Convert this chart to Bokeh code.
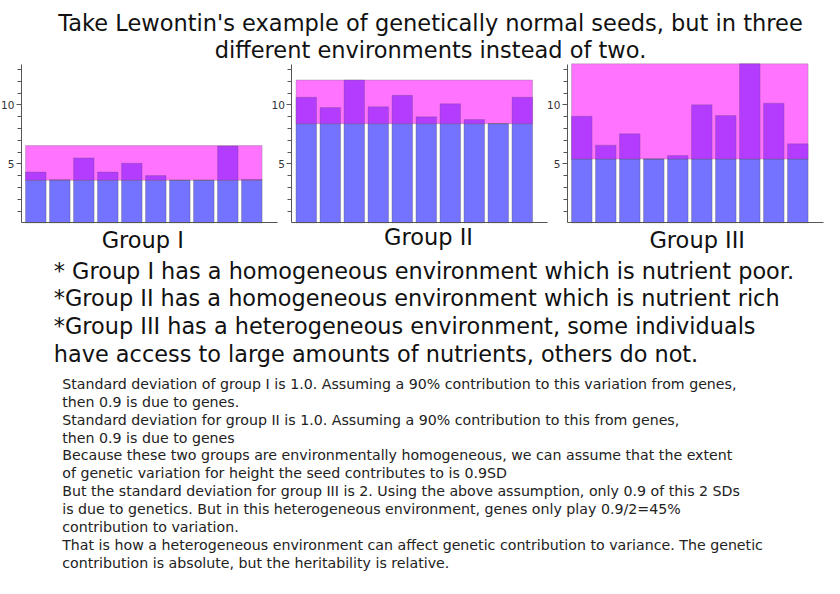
from bokeh.plotting import figure
from bokeh.models import LinearAxis, FixedTicker, Range1d, ColumnDataSource
from bokeh.core.properties import value
from bokeh.embed import file_html
from bokeh.resources import INLINE

# ---------------- data ----------------
groups = ["Group I", "Group II", "Group III"]
individuals = list(range(1, 11))
genetic = [3.6, 8.4, 5.4]          # genetic (blue) height per group
env_top = [6.55, 12.1, 13.47]      # top of environmental (pink) band
totals_I = [4.3, 3.65, 5.5, 4.3, 5.05, 4.0, 3.6, 3.6, 6.5, 3.67]
totals_II = [10.64, 9.77, 12.1, 9.83, 10.8, 8.98, 10.08, 8.75, 8.4, 10.64]
totals_III = [9.03, 6.58, 7.54, 5.4, 5.7, 10.0, 9.09, 13.47, 10.14, 6.69]
totals = [totals_I, totals_II, totals_III]
major_ticks = [5, 10]
minor_ticks = list(range(1, 14))

title_lines = ["Take Lewontin's example of genetically normal seeds, but in three",
               "different environments instead of two."]
bullet_lines = ["* Group I has a homogeneous environment which is nutrient poor.",
                "*Group II has a homogeneous environment which is nutrient rich",
                "*Group III has a heterogeneous environment, some individuals",
                "have access to large amounts of nutrients, others do not."]
para_lines = ["Standard deviation of group I is 1.0. Assuming a 90% contribution to this variation from genes,",
              "then 0.9 is due to genes.",
              "Standard deviation for group II is 1.0. Assuming a 90% contribution to this from genes,",
              "then 0.9 is due to genes",
              "Because these two groups are environmentally homogeneous, we can assume that the extent",
              "of genetic variation for height the seed contributes to is 0.9SD",
              "But the standard deviation for group III is 2. Using the above assumption, only 0.9 of this 2 SDs",
              "is due to genetics. But in this heterogeneous environment, genes only play 0.9/2=45%",
              "contribution to variation.",
              "That is how a heterogeneous environment can affect genetic contribution to variance. The genetic",
              "contribution is absolute, but the heritability is relative."]

# ---------------- layout ----------------
W, H = 824, 578
UX, UY = 24.0, 11.8
X0, Y0 = 35.3, 222.3
def dx(px): return (px - X0) / UX + 1
def dy(py): return (Y0 - py) / UY

offsets = [0.0, 11.27, 22.75]
BW = 0.855
AX_L, AX_R, AX_TOP = 0.4, 11.07, 13.4

BLUE = "#7373ff"
PINK = "#ff73ff"
PURPLE = "#b43cff"
FONT = value("DejaVu Sans")

p = figure(width=W, height=H, output_backend="svg", toolbar_location=None,
           x_range=Range1d(dx(0), dx(W)), y_range=Range1d(dy(H), dy(0)),
           x_axis_location=None, y_axis_location=None, min_border=0)
p.title.visible = False
p.grid.visible = False
p.outline_line_color = None
p.background_fill_color = "white"
p.border_fill_color = "white"

for g, off in enumerate(offsets):
    xs = [i + off for i in individuals]
    band = ColumnDataSource(dict(left=[xs[0] - BW / 2], right=[xs[-1] + BW / 2],
                                 bottom=[genetic[g]], top=[env_top[g]]))
    p.quad(left="left", right="right", bottom="bottom", top="top", source=band,
           fill_color=PINK, line_color="#777777", line_width=0.6, line_alpha=0.6)
    src = ColumnDataSource(dict(x=xs, gen=[genetic[g]] * len(xs),
                                tot=[max(t, genetic[g]) for t in totals[g]]))
    p.vbar(x="x", width=BW, bottom=0, top="gen", source=src,
           fill_color=BLUE, line_color="#555555", line_width=0.6, line_alpha=0.6)
    p.vbar(x="x", width=BW, bottom="gen", top="tot", source=src,
           fill_color=PURPLE, line_color="#555555", line_width=0.5, line_alpha=0.5)

    yax = LinearAxis(fixed_location=off + AX_L, bounds=(0, AX_TOP),
                     ticker=FixedTicker(ticks=major_ticks, minor_ticks=minor_ticks),
                     axis_line_color="#555555", axis_line_width=1,
                     major_tick_line_color="#555555", minor_tick_line_color="#555555",
                     major_tick_in=0, major_tick_out=5, minor_tick_in=0, minor_tick_out=4,
                     major_label_standoff=2, major_label_text_font="DejaVu Sans",
                     major_label_text_font_size="10.5px", major_label_text_color="#333333")
    p.add_layout(yax, "left")
    xax = LinearAxis(fixed_location=0, bounds=(off + AX_L, off + AX_R),
                     ticker=FixedTicker(ticks=[]), axis_line_color="#555555",
                     major_tick_line_color=None, minor_tick_line_color=None,
                     major_label_text_font_size="0px")
    p.add_layout(xax, "below")

# group labels
p.text(x=[dx(142.3), dx(428), dx(696.7)], y=[dy(239.7), dy(236.8), dy(239.7)], text=groups,
       text_font=FONT, text_font_size=value("22.5px"), text_align="center",
       text_baseline="alphabetic", text_color="#111111")

# title
p.text(x=[dx(430)] * 2, y=[dy(22.3), dy(49.3)], text=title_lines,
       text_font=FONT, text_font_size=value("22.5px"), text_align="center",
       text_baseline="alphabetic", text_color="#111111")

# bullets
p.text(x=[dx(53.3)] * len(bullet_lines), y=[dy(270 + 27.9 * i) for i in range(len(bullet_lines))],
       text=bullet_lines, text_font=FONT, text_font_size=value("22.4px"), text_align="left",
       text_baseline="alphabetic", text_color="#111111")

# paragraph
p.text(x=[dx(61.7)] * len(para_lines), y=[dy(383.3 + 17.9 * i) for i in range(len(para_lines))],
       text=para_lines, text_font=FONT, text_font_size=value("14.2px"), text_align="left",
       text_baseline="alphabetic", text_color="#222222")

open("out.html", "w").write(file_html(p, INLINE))
